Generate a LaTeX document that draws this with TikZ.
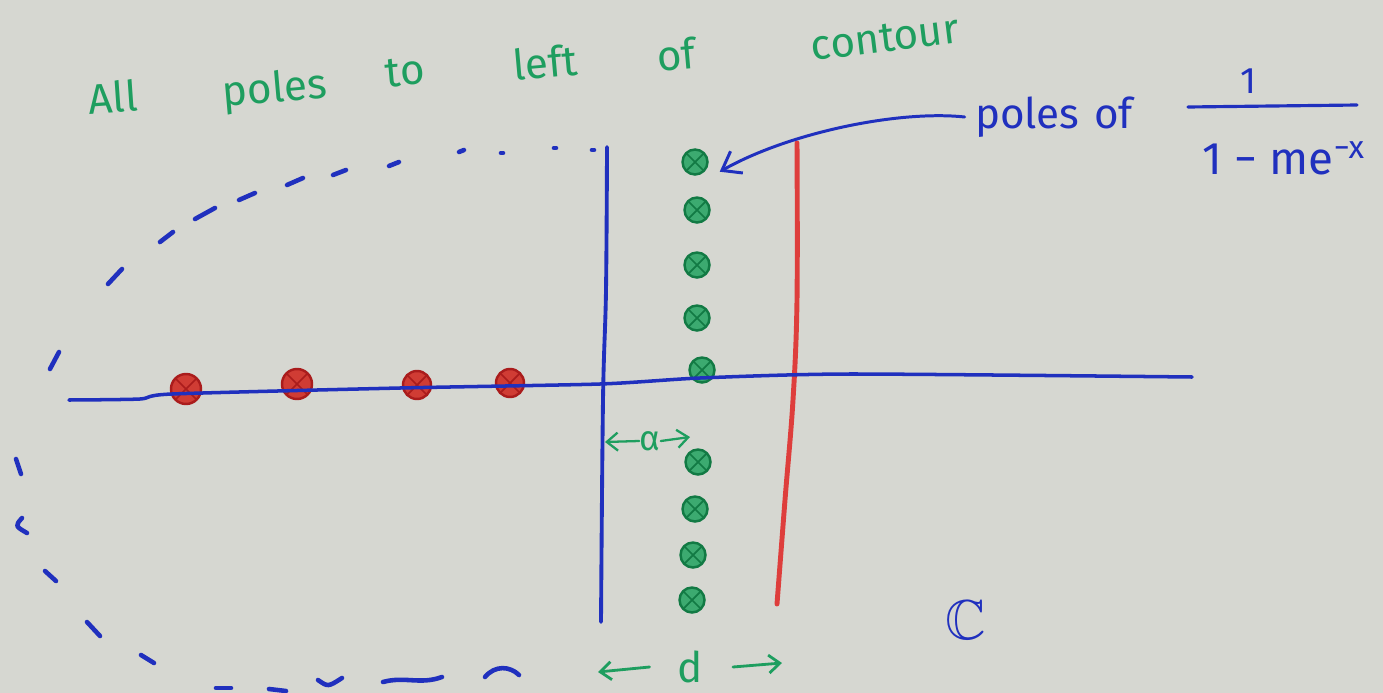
\documentclass[tikz,border=0pt]{standalone}
\usepackage{amssymb}
\usepackage{fontspec}
\setmainfont{Fira Sans}
\usetikzlibrary{arrows.meta}

\definecolor{paper}{RGB}{214,215,209}
\definecolor{inkblue}{RGB}{32,48,190}
\definecolor{inkred}{RGB}{222,62,60}
\definecolor{inkgreen}{RGB}{30,158,95}
\definecolor{polered}{RGB}{208,60,52}
\definecolor{poleredrim}{RGB}{170,28,28}
\definecolor{polegreen}{RGB}{60,170,112}
\definecolor{polegreenrim}{RGB}{18,122,68}

\tikzset{
  hand/.style={line cap=round, line join=round},
  bluepen/.style={hand, draw=inkblue, line width=2pt},
  greenpen/.style={hand, draw=inkgreen, line width=1.3pt},
  dashmark/.style={hand, draw=inkblue, line width=2.6pt},
  barb/.style={-{Straight Barb[length=2.2mm,width=3.6mm]}},
  crossed/.style={path picture={
      \draw[#1, line width=1pt]
        (path picture bounding box.north west) -- (path picture bounding box.south east)
        (path picture bounding box.north east) -- (path picture bounding box.south west);}},
  redpole/.style={circle, minimum size=0.6cm, inner sep=0pt, fill=polered,
      draw=poleredrim, line width=1.4pt, crossed=poleredrim},
  greenpole/.style={circle, minimum size=0.5cm, inner sep=0pt, fill=polegreen,
      draw=polegreenrim, line width=1.4pt, crossed=polegreenrim},
  greenword/.style={text=inkgreen, font=\fontsize{24}{28}\selectfont, inner sep=0pt},
  blueword/.style={text=inkblue, font=\fontsize{24}{28}\selectfont, inner sep=0pt}
}

\begin{document}
\begin{tikzpicture}[x=0.02cm, y=-0.02cm]
  % paper
  \fill[paper] (0,0) rectangle (1383,693);
  \useasboundingbox (0,0) rectangle (1383,693);

  % heading
  \node[greenword, rotate=4] (wAll)     at (113,97) {All};
  \node[greenword, rotate=5] (wPoles)   at (275,91) {poles};
  \node[greenword, rotate=5] (wTo)      at (405,72) {to};
  \node[greenword, rotate=5] (wLeft)    at (545,62) {left};
  \node[greenword, rotate=5] (wOf)      at (676,54) {of};
  \node[greenword, rotate=7] (wContour) at (885,38) {contour};

  % dashed closing contour on the left
  \draw[dashmark] (592,150) -- (594,150);
  \draw[dashmark] (554,148) -- (556,148);
  \draw[dashmark] (501,153) -- (503,153);
  \draw[dashmark] (459,152) -- (464,150);
  \draw[dashmark] (389,166) -- (399,162);
  \draw[dashmark] (333,175) -- (346,170);
  \draw[dashmark] (287,185) -- (303,178);
  \draw[dashmark] (239,200) -- (255,193);
  \draw[dashmark] (195,219) -- (215,208);
  \draw[dashmark] (160,242) -- (173,232);
  \draw[dashmark] (108,284) -- (122,269);
  \draw[dashmark] (50,369) -- (59,352);
  \draw[dashmark] (16,459) -- (21,474);
  \draw[dashmark] (22,518) .. controls (15,526) .. (27,533);
  \draw[dashmark] (45,571) -- (56,581);
  \draw[dashmark] (87,622) -- (100,636);
  \draw[dashmark] (141,655) -- (154,663);
  \draw[dashmark] (216,688) -- (231,688);
  \draw[dashmark] (269,689) -- (286,691);
  \draw[dashmark] (318,680) .. controls (328,687) .. (342,678);
  \draw[dashmark] (383,682) .. controls (405,676) and (420,685) .. (442,677);
  \draw[dashmark] (485,677) .. controls (495,665) and (510,666) .. (519,675);

  % vertical contour line (blue) and shifted line (red)
  \coordinate (vT) at (607,147);
  \coordinate (vB) at (601,622);
  \draw[bluepen, line width=2.2pt] plot[smooth, tension=0.6]
    coordinates {(vT) (606,290) (603,400) (vB)};
  \coordinate (rT) at (797,143);
  \coordinate (rB) at (777,604);
  \draw[hand, draw=inkred, line width=2.8pt] plot[smooth, tension=0.6]
    coordinates {(rT) (797,300) (793,400) (785,500) (rB)};

  % poles on the real axis
  \node[redpole] (r1) at (186,389) {};
  \node[redpole] (r2) at (297,384) {};
  \node[redpole, minimum size=0.56cm] (r3) at (417,385) {};
  \node[redpole, minimum size=0.56cm] (r4) at (510,383) {};

  % column of poles
  \node[greenpole] (g1) at (695,162) {};
  \node[greenpole] (g2) at (697,210) {};
  \node[greenpole] (g3) at (697,265) {};
  \node[greenpole] (g4) at (697,318) {};
  \node[greenpole] (g5) at (702,370) {};
  \node[greenpole] (g6) at (698,462) {};
  \node[greenpole] (g7) at (695,509) {};
  \node[greenpole] (g8) at (693,555) {};
  \node[greenpole] (g9) at (692,600) {};

  % real axis
  \coordinate (axL) at (69,400);
  \coordinate (axR) at (1192,377);
  \draw[bluepen] plot[smooth, tension=0.4]
    coordinates {(axL) (140,399) (172,394) (400,388) (600,384) (700,378) (850,374) (axR)};

  % label with arrow to the column
  \node[blueword] (polesof) at (1054,117) {poles\hspace{0.35em}of};
  \draw[bluepen, line width=1.7pt, -{Straight Barb[length=3.4mm,width=5mm]}]
    ([xshift=-0.2cm]polesof.west) .. controls (900,110) and (790,132) .. ([xshift=0.3cm]g1.south east);

  % fraction 1/(1 - m e^{-x})
  \node[blueword, font=\fontsize{21}{25}\selectfont] (num) at (1248,81) {1};
  \coordinate (barL) at (1188,107);
  \coordinate (barR) at (1357,105);
  \draw[bluepen, line width=1.8pt] (barL) -- (barR);
  \node[blueword, font=\fontsize{26}{30}\selectfont] (den) at (1284,158) {1 − me\textsuperscript{−x}};

  % alpha spacing
  \node[greenword, font=\fontsize{20}{24}\selectfont] (alpha) at (650,441) {α};
  \coordinate (aL) at (605,442);
  \coordinate (aR) at (690,437);
  \draw[greenpen, barb] (alpha.west) -- (aL);
  \draw[greenpen, barb] (alpha.east) -- (aR);

  % d spacing
  \node[greenword] (dlab) at (690,667) {d};
  \coordinate (dL) at (598,672);
  \coordinate (dR) at (782,663);
  \draw[greenpen, line width=1.6pt, barb] ([xshift=-0.55cm]dlab.west) -- (dL);
  \draw[greenpen, line width=1.6pt, barb] ([xshift=0.6cm]dlab.east) -- (dR);

  % complex plane symbol
  \node[text=inkblue, font=\fontsize{32}{36}\selectfont, inner sep=0pt] (cplane) at (966,620) {$\mathbb{C}$};
\end{tikzpicture}
\end{document}
